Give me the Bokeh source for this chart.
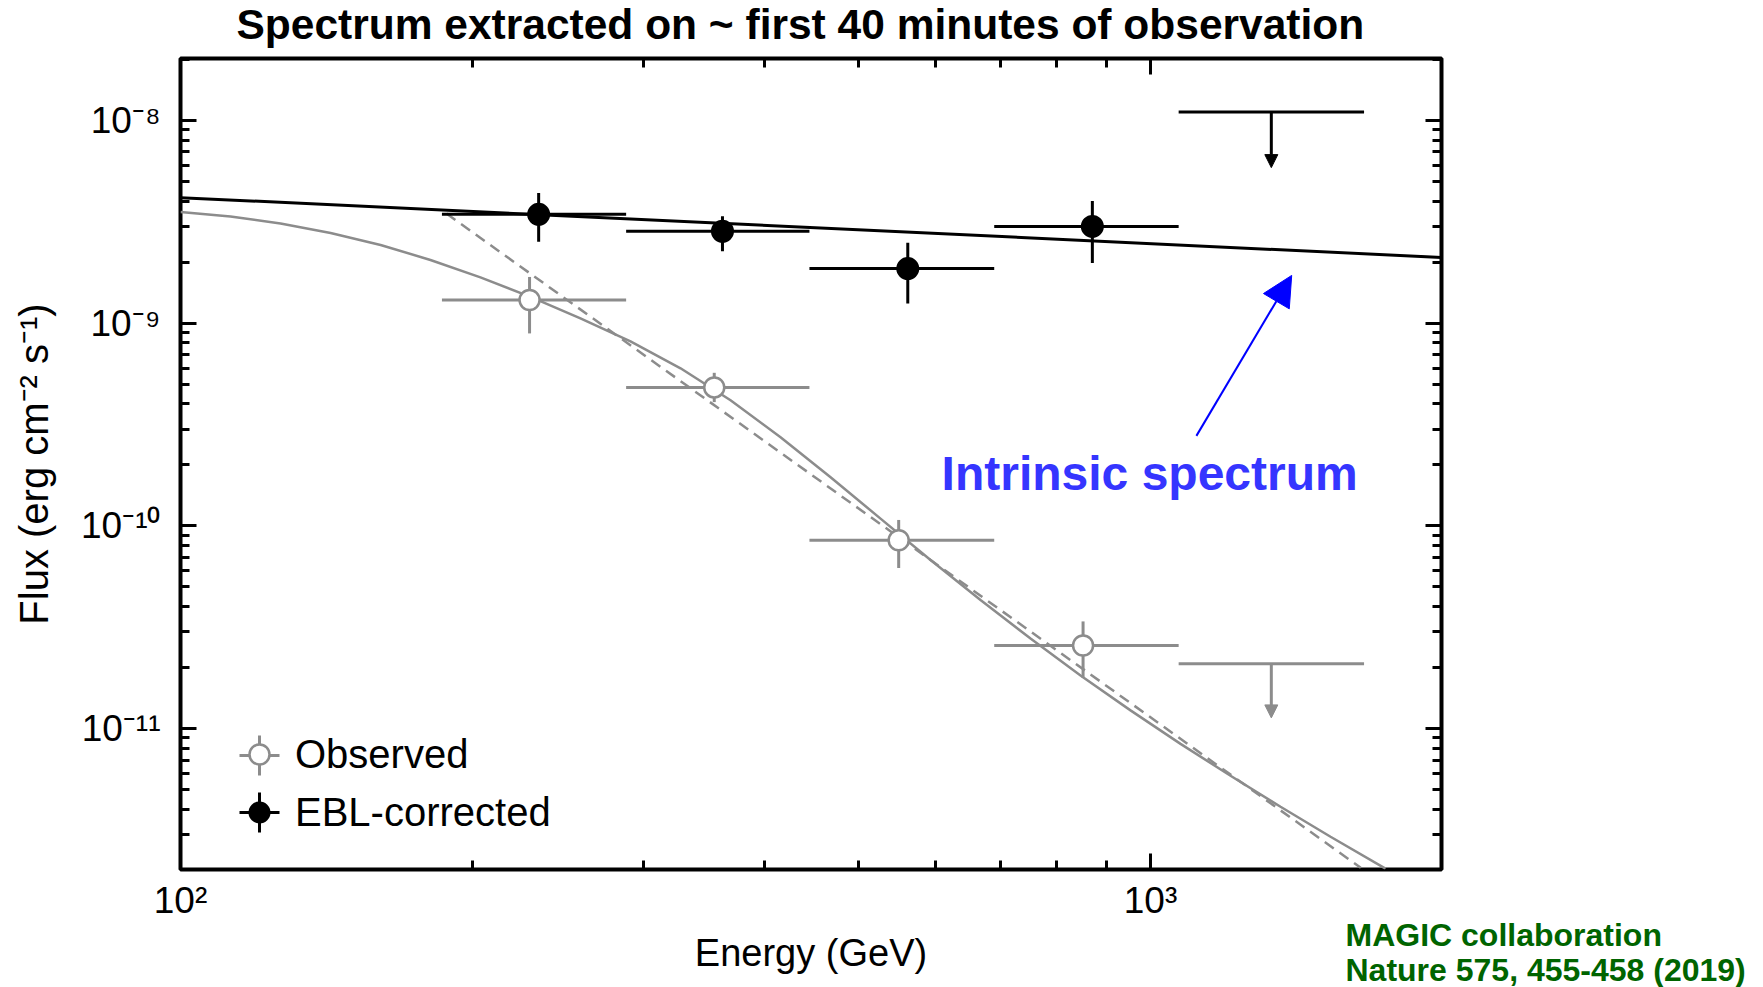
from bokeh.plotting import figure
from bokeh.models import (ColumnDataSource, FixedTicker, LogAxis, CustomJSTickFormatter,
                          Legend, LegendItem, Arrow, NormalHead, Label, Title)
from bokeh.embed import file_html
from bokeh.resources import INLINE

# ---------------- data ----------------
# energy bins (GeV)
bin_lo = [186, 288, 445, 690]
bin_hi = [288, 445, 690, 1069]

# observed spectrum (open grey points), erg cm^-2 s^-1
obs_e = [229, 355, 550, 852]
obs_flux = [1.30e-9, 4.82e-10, 8.5e-11, 2.57e-11]
obs_flux_hi = [1.69e-9, 5.69e-10, 1.07e-10, 3.38e-11]
obs_flux_lo = [8.9e-10, 4.08e-10, 6.2e-11, 1.78e-11]

# EBL-corrected spectrum (filled black points)
ebl_e = [234, 362, 562, 871]
ebl_flux = [3.44e-9, 2.84e-9, 1.86e-9, 3.00e-9]
ebl_flux_hi = [4.38e-9, 3.37e-9, 2.49e-9, 4.00e-9]
ebl_flux_lo = [2.52e-9, 2.26e-9, 1.25e-9, 1.98e-9]

# upper limits in the last bin
ul_e = [1332]
ul_lo = [1069]
ul_hi = [1660]
obs_ul = [2.09e-11]
obs_ul_tip = [1.13e-11]
ebl_ul = [1.10e-8]
ebl_ul_tip = [5.85e-9]

# model curves
intrinsic_e = [100, 1995]
intrinsic_flux = [4.16e-9, 2.11e-9]
obs_model_e = [100, 112.6, 126.8, 142.8, 160.8, 181.0, 203.8, 229.5, 258.4, 291.0,
               327.7, 369.0, 415.5, 467.9, 526.8, 593.2, 667.9, 752.1, 846.9, 953.6,
               1073.8, 1209.1, 1361.5, 1533.1, 1746.7]
obs_model_flux = [3.535e-9, 3.358e-9, 3.102e-9, 2.785e-9, 2.431e-9, 2.050e-9, 1.681e-9,
                  1.348e-9, 1.056e-9, 8.135e-10, 5.989e-10, 4.166e-10, 2.738e-10,
                  1.739e-10, 1.086e-10, 6.785e-11, 4.310e-11, 2.785e-11, 1.830e-11,
                  1.231e-11, 8.416e-12, 5.855e-12, 4.119e-12, 2.931e-12, 2.041e-12]
obs_pl_e = [188, 1647]
obs_pl_flux = [3.47e-9, 2.06e-12]

# ticks
x_major = [100, 1000]
x_minor = [m * 10 ** k for k in (2, 3) for m in range(2, 10)]
y_major = [10.0 ** k for k in range(-12, -7)]
y_minor = [m * 10.0 ** k for k in range(-13, -7) for m in range(2, 10)]

title_text = "Spectrum extracted on ~ first 40 minutes of observation"
x_label = "Energy (GeV)"
y_label = "Flux (erg cm\u207b\u00b2 s\u207b\u00b9)"
legend_labels = ["Observed", "EBL-corrected"]
annot_text = "Intrinsic spectrum"
credit_lines = ["MAGIC collaboration", "Nature 575, 455-458 (2019)"]

# ---------------- styling ----------------
FONT = "Liberation Sans"
GREY = "#8c8c8c"
BLACK = "#000000"
GREEN = "#006400"

p = figure(width=1763, height=987, x_axis_type="log", y_axis_type="log",
           x_range=(100, 1995), y_range=(2.02e-12, 2.02e-8),
           output_backend="svg", toolbar_location=None,
           min_border_left=180, min_border_right=322, min_border_top=58,
           min_border_bottom=118, background_fill_color="white",
           border_fill_color="white")
p.grid.visible = False
p.outline_line_color = "black"
p.outline_line_width = 4

p.title.text = title_text
p.title.text_font = FONT
p.title.text_font_style = "bold"
p.title.text_font_size = "42.5px"
p.title.text_color = "black"
p.title.align = "left"
p.title.offset = 56
p.title.standoff = -12

sup_js = """
const m = {'-':'\u207b','0':'\u2070','1':'\u00b9','2':'\u00b2','3':'\u00b3','4':'\u2074',
           '5':'\u2075','6':'\u2076','7':'\u2077','8':'\u2078','9':'\u2079'};
const e = Math.round(Math.log10(tick));
return '10' + String(e).split('').map(c => m[c]).join('');
"""
fmt = CustomJSTickFormatter(code=sup_js)
blank = CustomJSTickFormatter(code="return '';")

xticker = FixedTicker(ticks=x_major, minor_ticks=x_minor)
yticker = FixedTicker(ticks=y_major, minor_ticks=y_minor)


def style_axis(ax, ticker, show):
    ax.ticker = ticker
    ax.axis_line_color = None
    ax.major_tick_in = 16
    ax.major_tick_out = 0
    ax.minor_tick_in = 9
    ax.minor_tick_out = 0
    ax.major_tick_line_width = 3
    ax.minor_tick_line_width = 3
    ax.major_tick_line_color = "black"
    ax.minor_tick_line_color = "black"
    ax.formatter = fmt if show else blank
    ax.major_label_text_font = FONT
    ax.major_label_text_color = "black"
    ax.major_label_text_font_size = "37px" if show else "0px"
    ax.axis_label_text_font = FONT
    ax.axis_label_text_font_style = "normal"
    ax.axis_label_text_color = "black"


xa = p.xaxis[0]
ya = p.yaxis[0]
style_axis(xa, xticker, True)
style_axis(ya, yticker, True)
xa.axis_label = x_label
ya.axis_label = y_label
xa.axis_label_text_font_size = "38px"
ya.axis_label_text_font_size = "40px"
xa.major_label_standoff = 10
xa.axis_label_standoff = 8
ya.major_label_standoff = 20
ya.axis_label_standoff = 22

top_ax = LogAxis()
style_axis(top_ax, xticker, False)
right_ax = LogAxis()
style_axis(right_ax, yticker, False)
p.add_layout(top_ax, "above")
p.add_layout(right_ax, "right")
# thin spacer between the top axis and the title
p.add_layout(Title(text=" ", text_font_size="1px", standoff=14), "above")

# ---------------- model curves ----------------
p.line(obs_model_e, obs_model_flux, line_color=GREY, line_width=2.5)
p.line(obs_pl_e, obs_pl_flux, line_color=GREY, line_width=2.5, line_dash="11 7")
p.line(intrinsic_e, intrinsic_flux, line_color=BLACK, line_width=3)

# ---------------- data points ----------------
obs_src = ColumnDataSource(dict(e=obs_e, f=obs_flux, lo=obs_flux_lo, hi=obs_flux_hi,
                                e0=bin_lo, e1=bin_hi))
ebl_src = ColumnDataSource(dict(e=ebl_e, f=ebl_flux, lo=ebl_flux_lo, hi=ebl_flux_hi,
                                e0=bin_lo, e1=bin_hi))
ul_src = ColumnDataSource(dict(e=ul_e, e0=ul_lo, e1=ul_hi, obs=obs_ul, obs_tip=obs_ul_tip,
                               ebl=ebl_ul, ebl_tip=ebl_ul_tip))

renderers = {}
for key, src, col in (("obs", obs_src, GREY), ("ebl", ebl_src, BLACK)):
    p.segment(x0="e0", y0="f", x1="e1", y1="f", source=src, line_color=col, line_width=3)
    p.segment(x0="e", y0="lo", x1="e", y1="hi", source=src, line_color=col, line_width=3)
    cross = p.scatter("e", "f", source=src, marker="cross", size=8,
                      line_color=col, line_width=3)
    if key == "obs":
        circ = p.scatter("e", "f", source=src, marker="circle", size=20,
                         fill_color="white", line_color=col, line_width=2.5)
    else:
        circ = p.scatter("e", "f", source=src, marker="circle", size=21,
                         fill_color=col, line_color=col, line_width=2)
    renderers[key] = (cross, circ)

# upper limits
for yk, tk, col in (("obs", "obs_tip", GREY), ("ebl", "ebl_tip", BLACK)):
    p.segment(x0="e0", y0=yk, x1="e1", y1=yk, source=ul_src, line_color=col, line_width=3)
    p.add_layout(Arrow(end=NormalHead(size=13, fill_color=col, line_color=col, line_width=1),
                       x_start="e", y_start=yk, x_end="e", y_end=tk, source=ul_src,
                       line_color=col, line_width=3))

# ---------------- annotation ----------------
p.add_layout(Arrow(end=NormalHead(size=30, fill_color="blue", line_color="blue", line_width=1),
                   x_start=1115, y_start=2.78e-10, x_end=1398, y_end=1.72e-9,
                   line_color="blue", line_width=2))
p.add_layout(Label(x=609, y=1.804e-10, text=annot_text, text_font=FONT,
                   text_font_style="bold", text_font_size="48px", text_color="#3535ff",
                   text_baseline="alphabetic", text_align="left"))

# ---------------- legend ----------------
# crosses (error-bar symbol), one legend per entry so they sit behind the circles
for (key, loc) in (("obs", (29, 64)), ("ebl", (29, 7))):
    p.add_layout(Legend(items=[LegendItem(label=" ", renderers=[renderers[key][0]])],
                        glyph_width=100, glyph_height=100, padding=0, margin=0,
                        location=loc, label_text_font_size="1px",
                        border_line_color=None, background_fill_alpha=0))
leg_main = Legend(items=[LegendItem(label=legend_labels[0], renderers=[renderers["obs"][1]]),
                         LegendItem(label=legend_labels[1], renderers=[renderers["ebl"][1]])],
                  glyph_width=50, glyph_height=50, spacing=8, padding=0, margin=0,
                  location=(54, 32), label_standoff=11, label_text_font=FONT,
                  label_text_font_size="40px", label_text_color="black",
                  border_line_color=None, background_fill_alpha=0)
p.add_layout(leg_main)

# ---------------- credit (bottom right, outside the frame) ----------------
for line, so in ((credit_lines[1], -49), (credit_lines[0], -120)):
    p.add_layout(Title(text=line, align="left", offset=1165, vertical_align="top",
                       standoff=so, text_font=FONT, text_font_style="bold",
                       text_font_size="32px", text_color=GREEN), "below")

open("out.html", "w").write(file_html(p, INLINE))
